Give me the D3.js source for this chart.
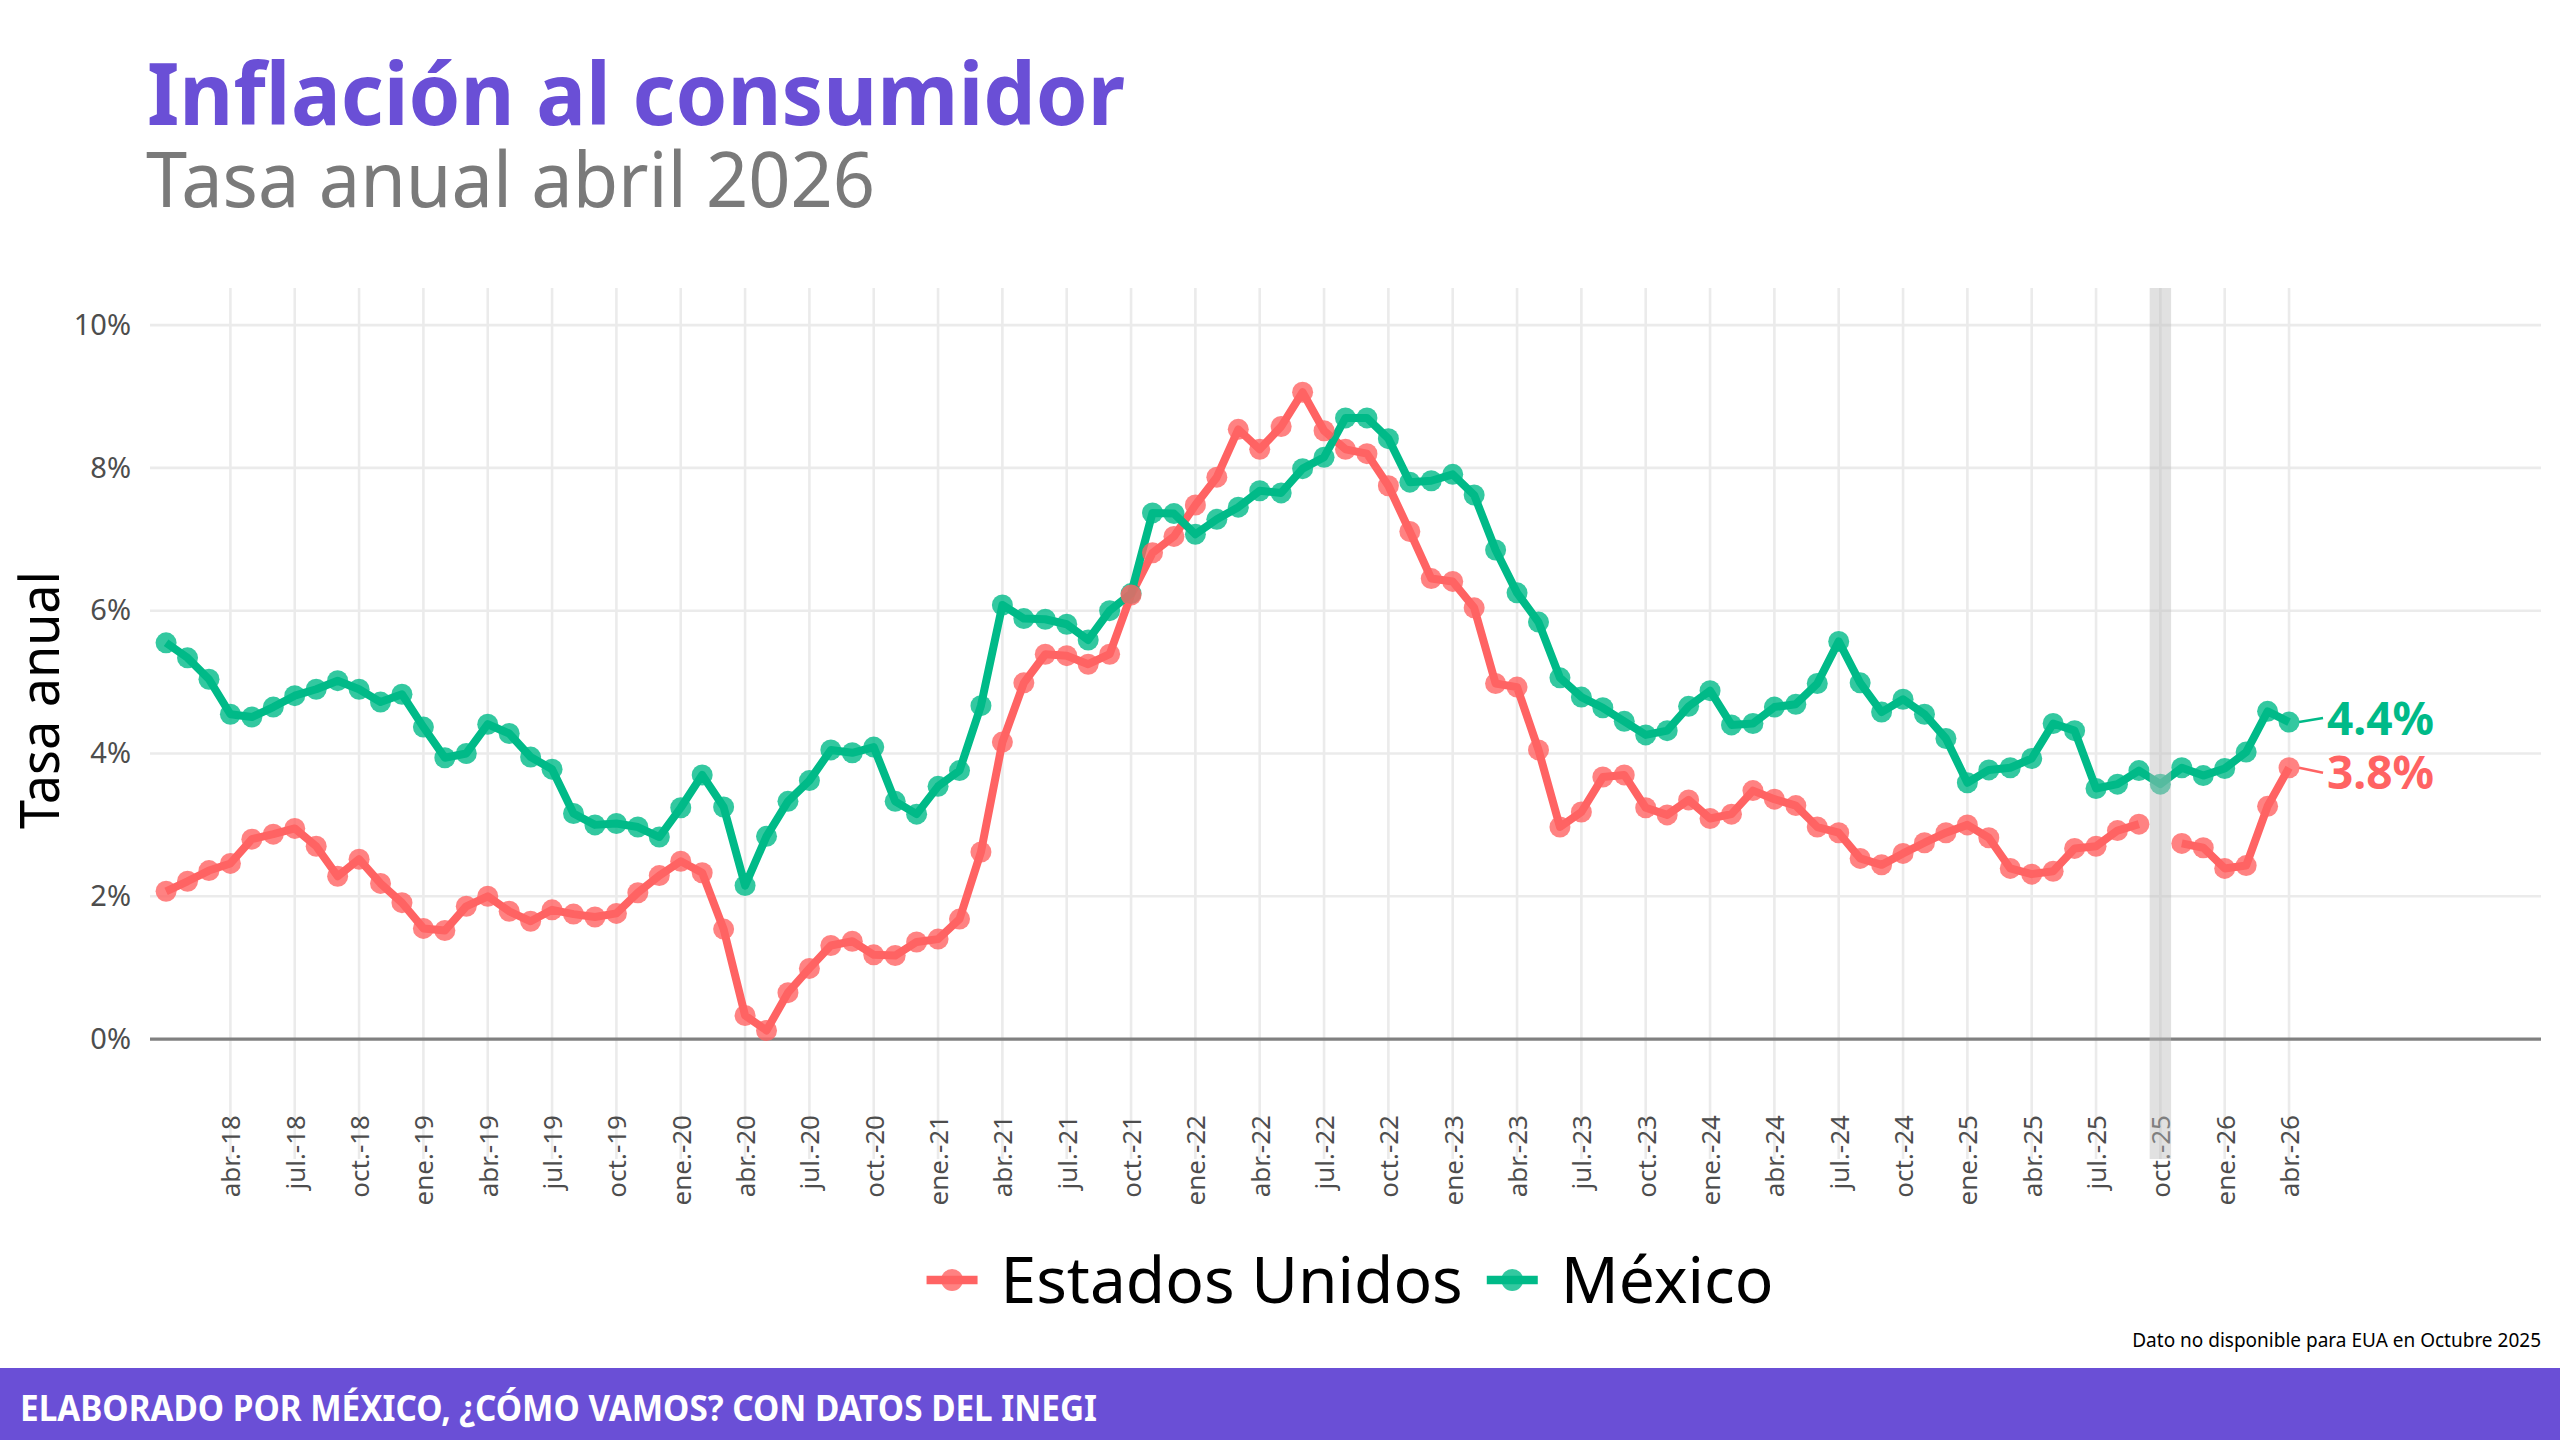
<!DOCTYPE html>
<html>
<head>
<meta charset="utf-8">
<script src="https://cdn.jsdelivr.net/npm/d3@7"></script>
<style>
  body { margin: 0; background: #fff; }
  svg { display: block; font-family: "Noto Sans", "Open Sans", sans-serif; }
</style>
</head>
<body>
<svg id="chart" width="2560" height="1440"></svg>
<script>
// DATA
const startMonth = new Date(2018, 0, 1);
const endMonth = new Date(2026, 4, 1);
const months = d3.timeMonth.range(startMonth, endMonth); // ene-2018 .. abr-2026

const series = ["Estados Unidos", "México"];
const colors = ["#FF6363", "#00BA88"];

// inflación anual EUA (oct-2025 sin dato)
const usValues = [
  2.07, 2.21, 2.36, 2.46, 2.80, 2.87, 2.95, 2.70, 2.28, 2.52, 2.18, 1.91,
  1.55, 1.52, 1.86, 2.00, 1.79, 1.65, 1.81, 1.75, 1.71, 1.76, 2.05, 2.29,
  2.49, 2.33, 1.54, 0.33, 0.12, 0.65, 0.99, 1.31, 1.37, 1.18, 1.17, 1.36,
  1.40, 1.68, 2.62, 4.16, 4.99, 5.39, 5.37, 5.25, 5.39, 6.22, 6.81, 7.04,
  7.48, 7.87, 8.54, 8.26, 8.58, 9.06, 8.52, 8.26, 8.20, 7.75, 7.11, 6.45,
  6.41, 6.04, 4.98, 4.93, 4.05, 2.97, 3.18, 3.67, 3.70, 3.24, 3.14, 3.35,
  3.09, 3.15, 3.48, 3.36, 3.27, 2.97, 2.89, 2.53, 2.44, 2.60, 2.75, 2.89,
  3.00, 2.82, 2.39, 2.31, 2.35, 2.67, 2.70, 2.92, 3.01, null, 2.74, 2.68,
  2.39, 2.43, 3.26, 3.80
];

// inflación anual México (INPC)
const mxValues = [
  5.55, 5.34, 5.04, 4.55, 4.51, 4.65, 4.81, 4.90, 5.02, 4.90, 4.72, 4.83,
  4.37, 3.94, 4.00, 4.41, 4.28, 3.95, 3.78, 3.16, 3.00, 3.02, 2.97, 2.83,
  3.24, 3.70, 3.25, 2.15, 2.84, 3.33, 3.62, 4.05, 4.01, 4.09, 3.33, 3.15,
  3.54, 3.76, 4.67, 6.08, 5.89, 5.88, 5.81, 5.59, 6.00, 6.24, 7.37, 7.36,
  7.07, 7.28, 7.45, 7.68, 7.65, 7.99, 8.15, 8.70, 8.70, 8.41, 7.80, 7.82,
  7.91, 7.62, 6.85, 6.25, 5.84, 5.06, 4.79, 4.64, 4.45, 4.26, 4.32, 4.66,
  4.88, 4.40, 4.42, 4.65, 4.69, 4.98, 5.57, 4.99, 4.58, 4.76, 4.55, 4.21,
  3.59, 3.77, 3.80, 3.93, 4.42, 4.32, 3.51, 3.57, 3.76, 3.57, 3.80, 3.69,
  3.79, 4.02, 4.59, 4.44
];

const xTickLabels = [
  "abr.-18", "jul.-18", "oct.-18",
  "ene.-19", "abr.-19", "jul.-19", "oct.-19",
  "ene.-20", "abr.-20", "jul.-20", "oct.-20",
  "ene.-21", "abr.-21", "jul.-21", "oct.-21",
  "ene.-22", "abr.-22", "jul.-22", "oct.-22",
  "ene.-23", "abr.-23", "jul.-23", "oct.-23",
  "ene.-24", "abr.-24", "jul.-24", "oct.-24",
  "ene.-25", "abr.-25", "jul.-25", "oct.-25",
  "ene.-26", "abr.-26"
];
const yTicks = [0, 2, 4, 6, 8, 10];
const missingMonth = new Date(2025, 9, 1); // oct-2025 sin dato EUA

// SETUP
const svg = d3.select("#chart");
const panel = { left: 150, right: 2541, top: 288, bottom: 1159 };

const x = d3.scaleLinear()
  .domain([-0.75, months.length + 10.75])
  .range([panel.left, panel.right]);

const y = d3.scaleLinear()
  .domain([-1.68, 10.52])
  .range([panel.bottom, panel.top]);

const data = series.map((name, s) => ({
  name: name,
  color: colors[s],
  values: (s == 0 ? usValues : mxValues).map((v, i) => ({ i: i, date: months[i], v: v }))
}));

// titles
svg.append("text")
  .attr("x", 147).attr("y", 125)
  .attr("font-size", 86).attr("font-weight", 700)
  .attr("fill", "#6A4FD6")
  .attr("textLength", 978).attr("lengthAdjust", "spacingAndGlyphs")
  .text("Inflación al consumidor");

svg.append("text")
  .attr("x", 146).attr("y", 207)
  .attr("font-size", 76)
  .attr("fill", "#7a7a7a")
  .attr("textLength", 729).attr("lengthAdjust", "spacingAndGlyphs")
  .text("Tasa anual abril 2026");

// gridlines
const tickIdx = d3.range(3, months.length, 3);

svg.append("g").selectAll("line")
  .data(yTicks.filter(d => d != 0))
  .join("line")
  .attr("x1", panel.left).attr("x2", panel.right)
  .attr("y1", d => y(d)).attr("y2", d => y(d))
  .attr("stroke", "#ebebeb").attr("stroke-width", 2.6);

svg.append("g").selectAll("line")
  .data(tickIdx)
  .join("line")
  .attr("x1", d => x(d)).attr("x2", d => x(d))
  .attr("y1", panel.top).attr("y2", panel.bottom)
  .attr("stroke", "#ebebeb").attr("stroke-width", 2.6);

// zero line
svg.append("line")
  .attr("x1", panel.left).attr("x2", panel.right)
  .attr("y1", y(0)).attr("y2", y(0))
  .attr("stroke", "#808080").attr("stroke-width", 3.2);

// y axis
const yAxis = d3.axisLeft(y).tickValues(yTicks).tickFormat(d => d + "%").tickSize(0).tickPadding(19);
const yAxisG = svg.append("g")
  .attr("transform", `translate(${panel.left},0)`)
  .call(yAxis);
yAxisG.select(".domain").remove();
yAxisG.selectAll("text")
  .attr("font-size", 29).attr("fill", "#4d4d4d")
  .attr("font-family", "'Noto Sans', sans-serif");

// x axis
const xAxis = d3.axisBottom(x).tickValues(tickIdx).tickFormat((d, k) => xTickLabels[k]).tickSize(0);
const xAxisG = svg.append("g")
  .attr("transform", `translate(0,1115)`)
  .call(xAxis);
xAxisG.select(".domain").remove();
xAxisG.selectAll("text")
  .attr("transform", "rotate(-90)")
  .attr("text-anchor", "end")
  .attr("x", 0).attr("y", 0).attr("dy", "0.36em")
  .attr("font-size", 26).attr("fill", "#4d4d4d")
  .attr("font-family", "'Noto Sans', sans-serif");

// y axis title
svg.append("text")
  .attr("transform", `translate(59,700) rotate(-90)`)
  .attr("text-anchor", "middle")
  .attr("font-size", 54)
  .attr("fill", "#000")
  .attr("textLength", 258).attr("lengthAdjust", "spacingAndGlyphs")
  .text("Tasa anual");

// lines
const line = d3.line()
  .defined(d => d.v != null)
  .x(d => x(d.i))
  .y(d => y(d.v));

svg.append("g").selectAll("path")
  .data(data)
  .join("path")
  .attr("d", d => line(d.values))
  .attr("fill", "none")
  .attr("stroke", d => d.color)
  .attr("stroke-width", 8)
  .attr("stroke-linejoin", "round");

// points (México first, EUA on top)
svg.append("g").selectAll("g")
  .data(data.slice().reverse())
  .join("g")
  .attr("fill", d => d.color)
  .selectAll("circle")
  .data(d => d.values.filter(p => p.v != null))
  .join("circle")
  .attr("cx", d => x(d.i))
  .attr("cy", d => y(d.v))
  .attr("r", 10.5)
  .attr("fill-opacity", 0.8);

// shaded month without US data
const mi = months.findIndex(m => +m == +missingMonth);
svg.append("rect")
  .attr("x", x(mi - 0.5)).attr("width", x(mi + 0.5) - x(mi - 0.5))
  .attr("y", panel.top).attr("height", panel.bottom - panel.top)
  .attr("fill", "#bdbdbd").attr("fill-opacity", 0.45);

// end labels
const labelNudge = [5, -4];
const last = months.length - 1;
data.forEach((s, k) => {
  const v = s.values[last].v;
  const ly = y(v) + labelNudge[k];
  svg.append("line")
    .attr("x1", x(last) + 10).attr("y1", y(v))
    .attr("x2", x(last) + 34).attr("y2", ly)
    .attr("stroke", s.color).attr("stroke-width", 2.5);
  svg.append("text")
    .attr("x", x(last) + 38).attr("y", ly)
    .attr("dy", "0.36em")
    .attr("font-size", 46).attr("font-weight", 700)
    .attr("fill", s.color)
    .text(d3.format(".1f")(v) + "%");
});

// legend
const legend = svg.append("g");
const keyW = 51, keyGap = 23, itemGap = 24, legendY = 1280;
let lx = 0;
data.forEach(s => {
  const g = legend.append("g");
  g.append("line")
    .attr("x1", 0).attr("x2", keyW)
    .attr("y1", 0).attr("y2", 0)
    .attr("stroke", s.color).attr("stroke-width", 8.5);
  g.append("circle")
    .attr("cx", keyW / 2).attr("cy", 0).attr("r", 11)
    .attr("fill", s.color).attr("fill-opacity", 0.8);
  const t = g.append("text")
    .attr("x", keyW + keyGap).attr("y", 23)
    .attr("font-size", 64).attr("fill", "#000")
    .text(s.name);
  g.attr("transform", `translate(${lx},${legendY})`);
  lx += keyW + keyGap + t.node().getComputedTextLength() + itemGap;
});
const legendW = lx - itemGap;
legend.attr("transform", `translate(${1350 - legendW / 2},0)`);

// caption
svg.append("text")
  .attr("x", 2541).attr("y", 1347)
  .attr("text-anchor", "end")
  .attr("font-size", 19).attr("fill", "#000")
  .text("Dato no disponible para EUA en Octubre 2025");

// footer
svg.append("rect")
  .attr("x", 0).attr("y", 1368)
  .attr("width", 2560).attr("height", 72)
  .attr("fill", "#6A4FD6");

svg.append("text")
  .attr("x", 20).attr("y", 1421)
  .attr("font-size", 36).attr("font-weight", 700)
  .attr("fill", "#fff")
  .attr("textLength", 1077).attr("lengthAdjust", "spacingAndGlyphs")
  .text("ELABORADO POR MÉXICO, ¿CÓMO VAMOS? CON DATOS DEL INEGI");
</script>
</body>
</html>
